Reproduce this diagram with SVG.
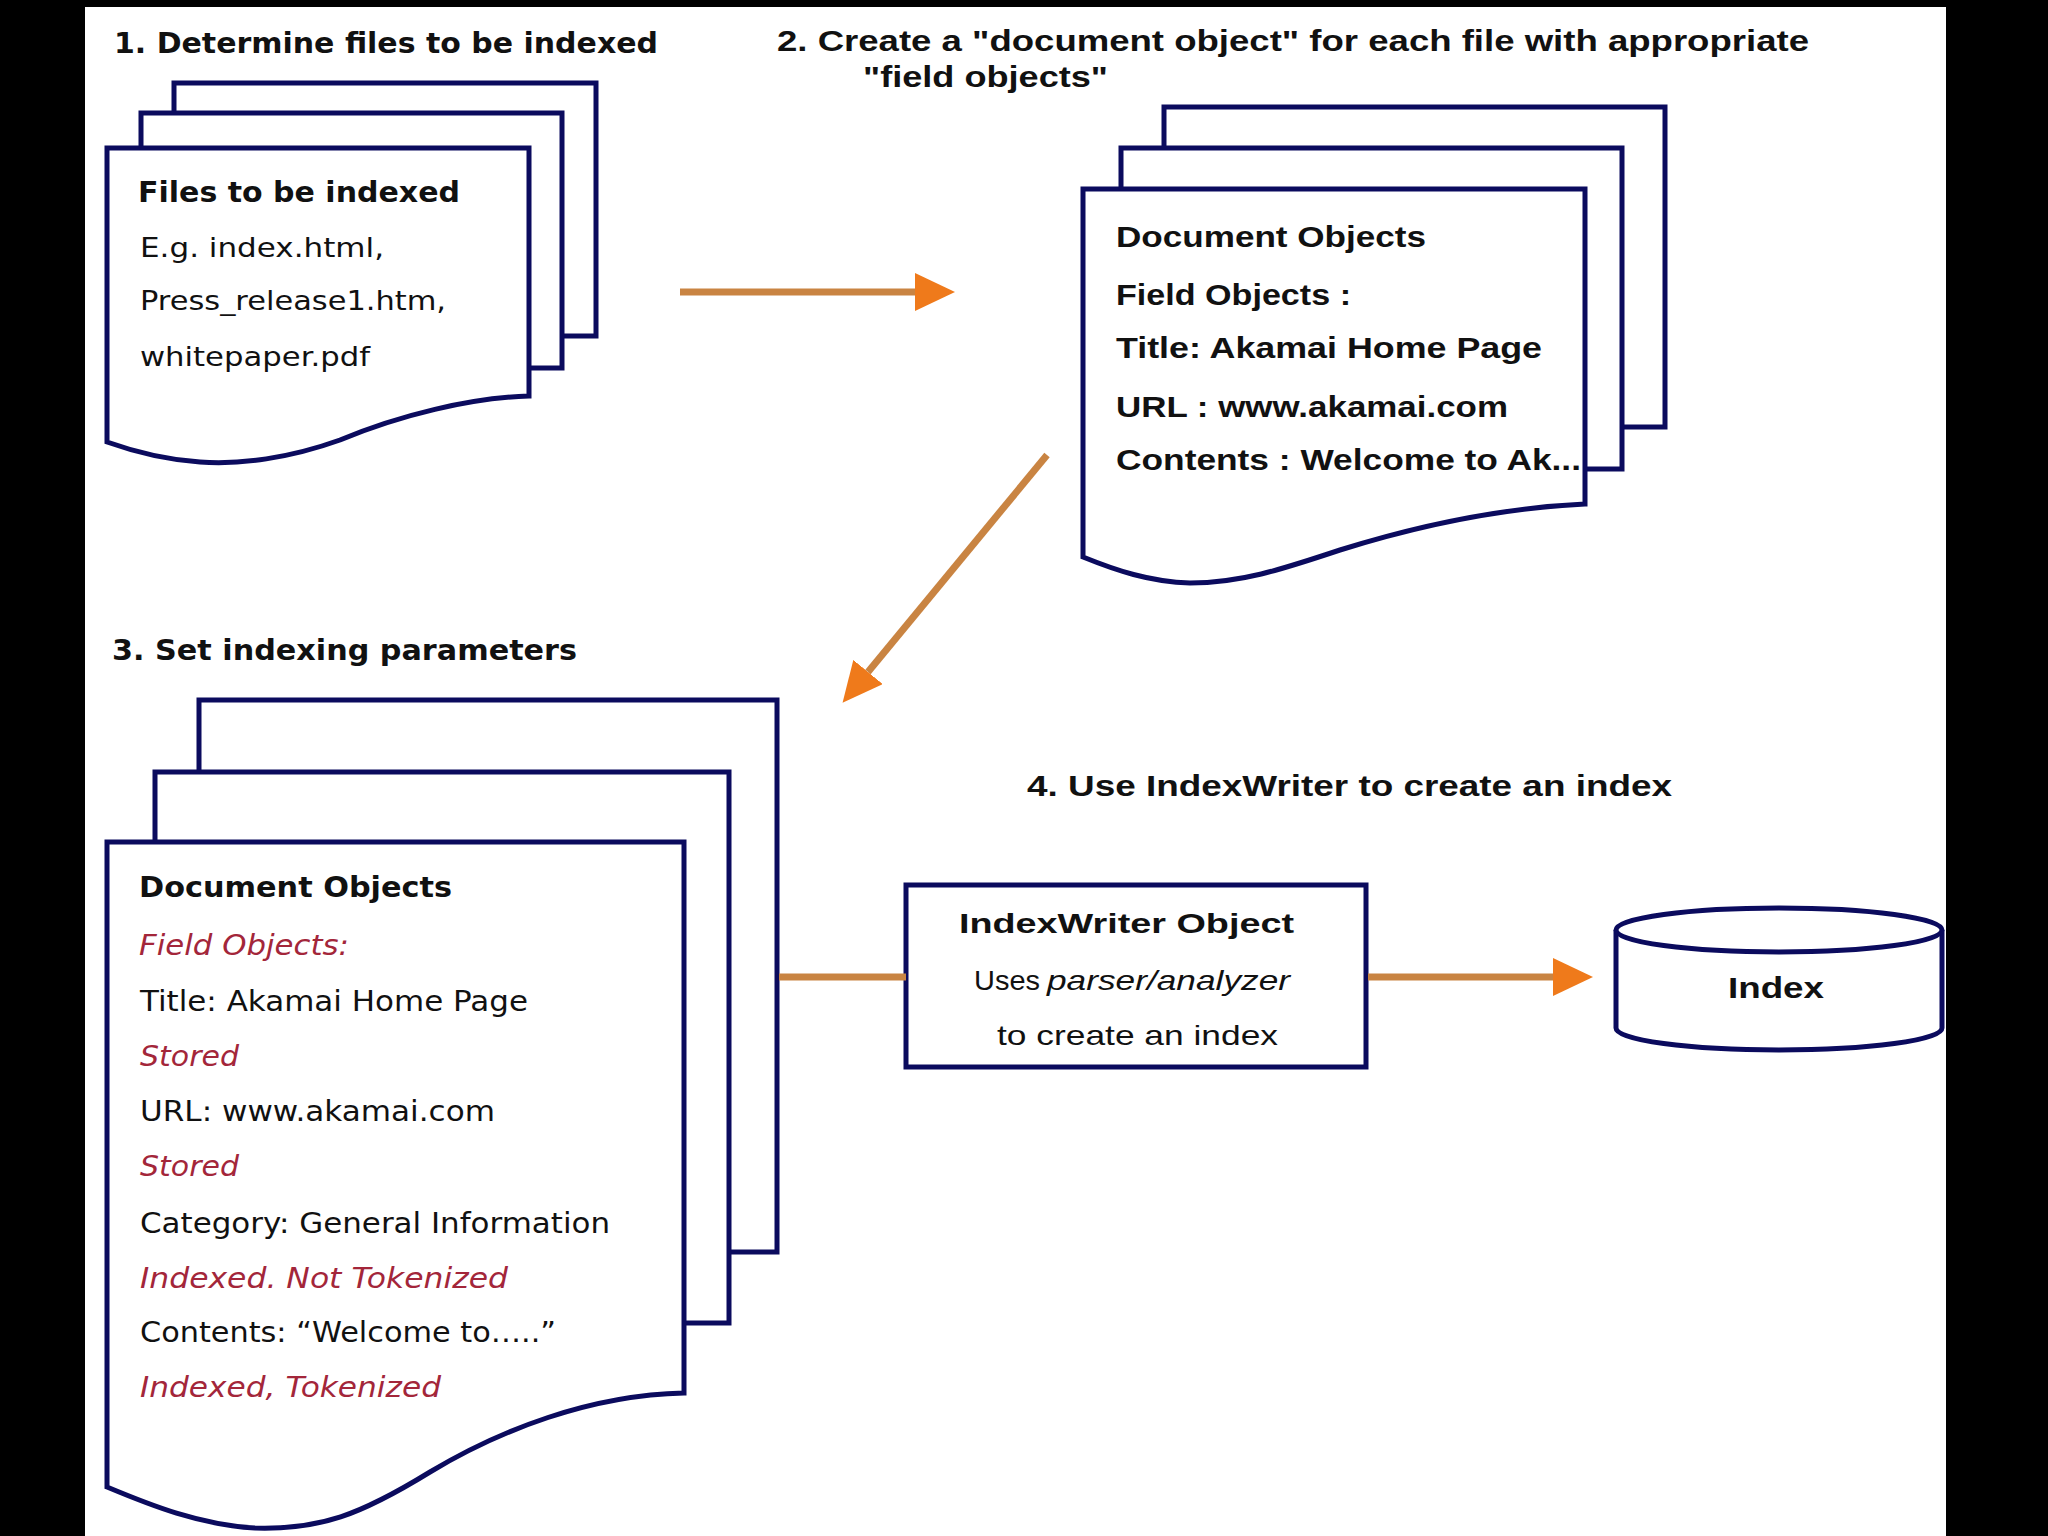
<svg xmlns="http://www.w3.org/2000/svg" width="2048" height="1536" viewBox="0 0 2048 1536">
<style>
.pg{fill:#fff;stroke:#0b0b5e;stroke-width:5;stroke-linejoin:miter}
.tb{font-family:"Liberation Sans",Arial,sans-serif;font-weight:bold;fill:#111}
.t{font-family:"Liberation Sans",Arial,sans-serif;fill:#111}
.vb{font-family:"DejaVu Sans",Verdana,sans-serif;font-weight:bold;fill:#111}
.v{font-family:"DejaVu Sans",Verdana,sans-serif;fill:#111}
.vi{font-family:"DejaVu Sans",Verdana,sans-serif;font-style:italic;fill:#a3263a}
.con{stroke:#c98442;stroke-width:7;fill:none}
</style>
<defs>
<marker id="ah" viewBox="0 0 40 38" refX="0" refY="19" markerWidth="40" markerHeight="38" markerUnits="userSpaceOnUse" orient="auto">
<path d="M0,0 L40,19 L0,38 Z" fill="#ef7a1b"/>
</marker>
</defs>
<rect x="0" y="0" width="2048" height="1536" fill="#000"/>
<rect x="85" y="7" width="1861" height="1529" fill="#fff"/>

<g id="titles">
<text class="vb" x="114" y="53" font-size="28" textLength="544" lengthAdjust="spacingAndGlyphs">1. Determine files to be indexed</text>
<text class="tb" x="777" y="51" font-size="29" textLength="1032" lengthAdjust="spacingAndGlyphs">2. Create a "document object" for each file with appropriate</text>
<text class="tb" x="863" y="87" font-size="29" textLength="245" lengthAdjust="spacingAndGlyphs">"field objects"</text>
<text class="vb" x="112" y="660" font-size="29" textLength="465" lengthAdjust="spacingAndGlyphs">3. Set indexing parameters</text>
<text class="tb" x="1027" y="796" font-size="30" textLength="645" lengthAdjust="spacingAndGlyphs">4. Use IndexWriter to create an index</text>
</g>

<g id="files">
<rect class="pg" x="174" y="83" width="422" height="253"/>
<rect class="pg" x="141" y="113" width="421" height="255"/>
<path class="pg" d="M107,148 H529 V396 C470,398 400,415 340,440 C290,458 240,465 200,462 C170,460 135,452 107,442 Z"/>
<text class="vb" x="138" y="202" font-size="28" textLength="322" lengthAdjust="spacingAndGlyphs">Files to be indexed</text>
<text class="v" x="140" y="257" font-size="27" textLength="244" lengthAdjust="spacingAndGlyphs">E.g. index.html,</text>
<text class="v" x="140" y="310" font-size="27" textLength="306" lengthAdjust="spacingAndGlyphs">Press_release1.htm,</text>
<text class="v" x="140" y="366" font-size="27" textLength="230" lengthAdjust="spacingAndGlyphs">whitepaper.pdf</text>
</g>

<g id="document-objects">
<rect class="pg" x="1164" y="107" width="501" height="320"/>
<rect class="pg" x="1121" y="148" width="501" height="321"/>
<path class="pg" d="M1083,189 H1585 V504 C1500,508 1420,525 1340,550 C1280,570 1240,583 1190,583 C1150,582 1115,570 1083,557 Z"/>
<text class="tb" x="1116" y="247" font-size="29" textLength="310" lengthAdjust="spacingAndGlyphs">Document Objects</text>
<text class="tb" x="1116" y="305" font-size="29" textLength="235" lengthAdjust="spacingAndGlyphs">Field Objects :</text>
<text class="tb" x="1116" y="358" font-size="29" textLength="426" lengthAdjust="spacingAndGlyphs">Title: Akamai Home Page</text>
<text class="tb" x="1116" y="417" font-size="29" textLength="392" lengthAdjust="spacingAndGlyphs">URL : www.akamai.com</text>
<text class="tb" x="1116" y="470" font-size="29" textLength="465" lengthAdjust="spacingAndGlyphs">Contents : Welcome to Ak...</text>
</g>

<g id="indexing-parameters">
<rect class="pg" x="199" y="700" width="578" height="552"/>
<rect class="pg" x="155" y="772" width="574" height="551"/>
<path class="pg" d="M107,842 H684 V1393 C590,1395 500,1430 430,1472 C360,1515 320,1530 255,1528 C200,1525 150,1505 107,1487 Z"/>
<text class="vb" x="139" y="897" font-size="29" textLength="313" lengthAdjust="spacingAndGlyphs">Document Objects</text>
<text class="vi" x="139" y="955" font-size="28" textLength="210" lengthAdjust="spacingAndGlyphs">Field Objects:</text>
<text class="v" x="140" y="1011" font-size="28" textLength="388" lengthAdjust="spacingAndGlyphs">Title: Akamai Home Page</text>
<text class="vi" x="140" y="1066" font-size="28" textLength="99" lengthAdjust="spacingAndGlyphs">Stored</text>
<text class="v" x="140" y="1121" font-size="28" textLength="355" lengthAdjust="spacingAndGlyphs">URL: www.akamai.com</text>
<text class="vi" x="140" y="1176" font-size="28" textLength="99" lengthAdjust="spacingAndGlyphs">Stored</text>
<text class="v" x="140" y="1233" font-size="28" textLength="470" lengthAdjust="spacingAndGlyphs">Category: General Information</text>
<text class="vi" x="140" y="1288" font-size="28" textLength="368" lengthAdjust="spacingAndGlyphs">Indexed. Not Tokenized</text>
<text class="v" x="140" y="1342" font-size="28" textLength="416" lengthAdjust="spacingAndGlyphs">Contents: “Welcome to…..”</text>
<text class="vi" x="140" y="1397" font-size="28" textLength="301" lengthAdjust="spacingAndGlyphs">Indexed, Tokenized</text>
</g>

<g id="indexwriter">
<rect class="pg" x="906" y="885" width="460" height="182"/>
<text class="tb" x="959" y="933" font-size="28" textLength="335" lengthAdjust="spacingAndGlyphs">IndexWriter Object</text>
<text class="t" x="974" y="990" font-size="28" textLength="66" lengthAdjust="spacingAndGlyphs">Uses</text>
<text class="t" x="1047" y="990" font-size="28" font-style="italic" textLength="243" lengthAdjust="spacingAndGlyphs">parser/analyzer</text>
<text class="t" x="997" y="1045" font-size="28" textLength="281" lengthAdjust="spacingAndGlyphs">to create an index</text>
</g>

<g id="index">
<path class="pg" d="M1616,930 V1028 A163,22 0 0 0 1942,1028 V930"/>
<ellipse class="pg" cx="1779" cy="930" rx="163" ry="22"/>
<text class="tb" x="1728" y="998" font-size="29" textLength="96" lengthAdjust="spacingAndGlyphs">Index</text>
</g>

<g id="connectors">
<line class="con" x1="680" y1="292" x2="915" y2="292" marker-end="url(#ah)"/>
<line class="con" x1="1047" y1="455" x2="868" y2="672" marker-end="url(#ah)"/>
<line class="con" x1="779" y1="977" x2="906" y2="977"/>
<line class="con" x1="1368" y1="977" x2="1553" y2="977" marker-end="url(#ah)"/>
</g>
</svg>
